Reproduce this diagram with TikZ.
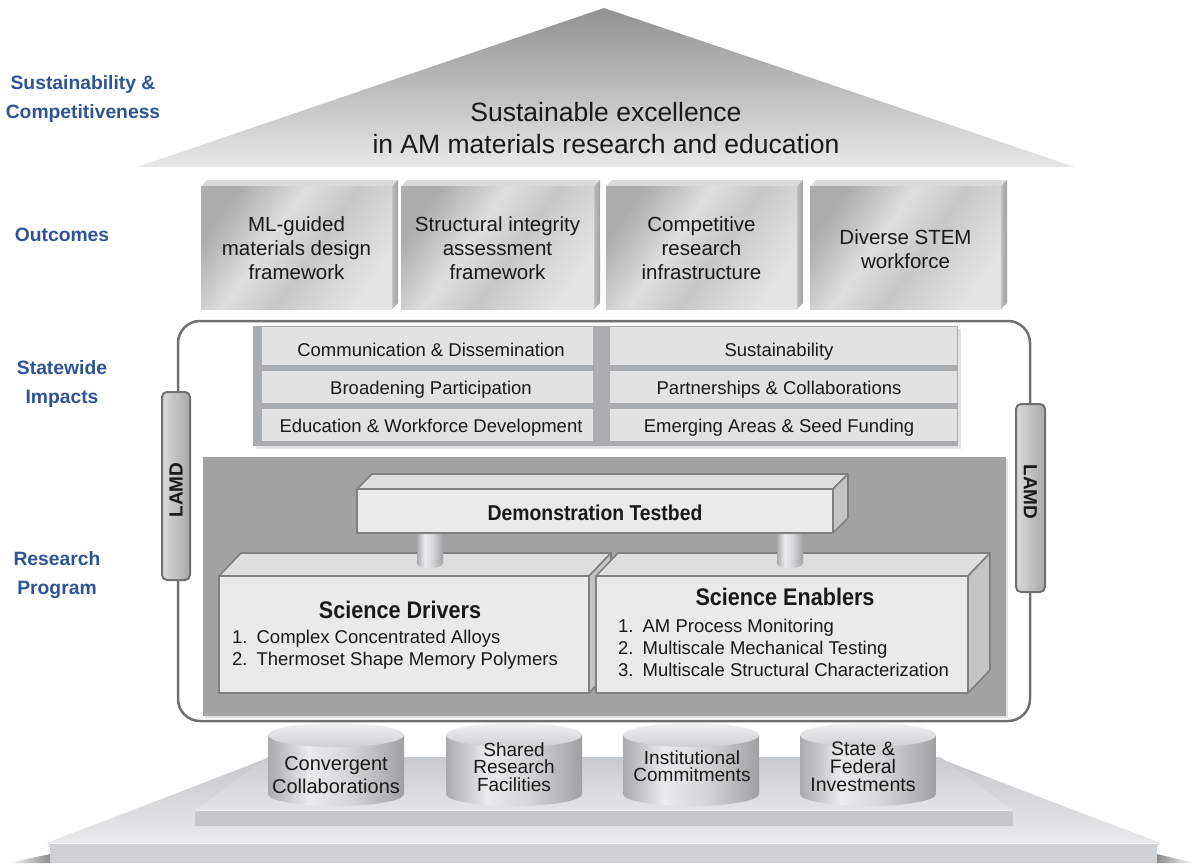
\documentclass[tikz,border=0pt]{standalone}
\usepackage{fontspec}
\setmainfont{Liberation Sans}
\newfontfamily\condb[FakeStretch=0.9]{Liberation Sans Bold}
\usetikzlibrary{shadows}
\definecolor{lblue}{RGB}{46,84,150}
\definecolor{edgec}{RGB}{128,128,128}
\definecolor{frontc}{RGB}{234,234,234}
\definecolor{topc}{RGB}{222,222,222}
\definecolor{sidec}{RGB}{196,196,196}
\definecolor{panel}{RGB}{162,162,162}
\definecolor{cellbg}{RGB}{170,173,176}
\definecolor{cell}{RGB}{226,226,226}
\definecolor{framec}{RGB}{112,112,112}
\definecolor{txt}{RGB}{25,25,25}
\definecolor{roofT}{RGB}{145,145,145}
\definecolor{roofB}{RGB}{232,232,232}
\definecolor{cyA}{RGB}{168,170,172}
\definecolor{cyB}{RGB}{234,235,236}
\definecolor{cyM}{RGB}{212,214,215}
\definecolor{cyC}{RGB}{158,160,162}
\definecolor{cyT1}{RGB}{240,241,242}
\definecolor{cyT2}{RGB}{205,207,208}
\definecolor{mA}{RGB}{172,172,172}
\definecolor{mB}{RGB}{222,222,222}
\definecolor{mC}{RGB}{200,200,200}
\definecolor{mD}{RGB}{228,228,228}
\definecolor{otop}{RGB}{218,218,218}
\definecolor{oside}{RGB}{160,160,160}
\definecolor{plA}{RGB}{196,200,202}
\definecolor{plB}{RGB}{232,234,235}
\definecolor{plA2}{RGB}{200,204,206}
\definecolor{plB2}{RGB}{226,229,230}
\definecolor{plF}{RGB}{206,210,212}
\definecolor{plF2}{RGB}{196,200,202}
\definecolor{shd}{RGB}{140,140,140}
\definecolor{pilL}{RGB}{218,218,218}
\definecolor{pilR}{RGB}{168,168,168}
\pgfdeclarehorizontalshading{cyl}{100bp}{color(0bp)=(cyA); color(25bp)=(cyA); color(40bp)=(cyB); color(55bp)=(cyM); color(75bp)=(cyC); color(100bp)=(cyC)}
\pgfdeclarehorizontalshading{metal}{100bp}{color(0bp)=(mA); color(25bp)=(mA); color(42bp)=(mB); color(55bp)=(mC); color(75bp)=(mD); color(100bp)=(mD)}
\begin{document}
\begin{tikzpicture}[x=1pt,y=-1pt,
  bluelab/.style={text=lblue,font=\fontsize{19.3}{29}\selectfont\bfseries,align=center,inner sep=0pt,anchor=base},
  outtxt/.style={font=\fontsize{20.5}{24}\selectfont,align=center,inner sep=0pt,text=txt,anchor=base},
  celltxt/.style={font=\fontsize{18.5}{22}\selectfont,inner sep=0pt,text=txt,anchor=base},
  listtxt/.style={font=\fontsize{18.5}{22}\selectfont,inner sep=0pt,text=txt,anchor=base west,align=left},
  cylt/.style={font=\fontsize{20}{17}\selectfont,align=center,inner sep=0pt,text=txt,anchor=base},
  lamd/.style={font=\fontsize{19}{22}\selectfont\bfseries,inner sep=0pt,text=txt},
  boxedge/.style={draw=edgec,line width=1.6pt,line join=round},
  titletxt/.style={font=\condb\fontsize{24}{28}\selectfont,inner sep=0pt,text=txt,anchor=base},
]
\useasboundingbox (0,0) rectangle (1198,863);

% ---------------- foundation ----------------
\shade[left color=white,right color=shd] (8,863) -- (50,854) -- (50,863) -- cycle;
\shade[left color=shd,right color=white] (1157,854) -- (1195,863) -- (1157,863) -- cycle;
\draw[gray!20,line width=5pt] (270,760) -- (48,845);
\draw[gray!20,line width=5pt] (936,760) -- (1159,845);
\shade[top color=plA,bottom color=plB] (270,757) -- (936,757) -- (1157,843) -- (50,843) -- cycle;
\fill[plF] (50,843) rectangle (1157,863);
\draw[white,line width=1pt] (50,843.5) -- (1157,843.5);
\shade[top color=plA2,bottom color=plB2] (268,757) -- (940,757) -- (1013,810) -- (195,810) -- cycle;
\fill[plF2] (195,810) rectangle (1013,826);
\draw[white!85!gray,line width=1pt] (195,810.5) -- (1013,810.5);

% cylinders
\foreach \x in {268,446,623,800}{
  \shade[shading=cyl] (\x,735) -- (\x,794) arc[start angle=180,end angle=360,x radius=68pt,y radius=12pt] -- (\x+136,735) -- cycle;
  \shade[top color=cyT1,bottom color=cyT2] (\x+68,735) ellipse[x radius=68pt,y radius=12pt];
}
\node[cylt,font=\fontsize{20}{23}\selectfont] (cyl1) at (336,793) {Convergent\\Collaborations};
\node[cylt,font=\fontsize{19}{17.5}\selectfont] (cyl2) at (514,791) {Shared\\Research\\Facilities};
\node[cylt,font=\fontsize{19}{17}\selectfont] (cyl3) at (692,781) {Institutional\\Commitments};
\node[cylt,font=\fontsize{19.5}{18}\selectfont] (cyl4) at (863,791) {State \&\\Federal\\Investments};

% ---------------- frame ----------------
\draw[framec,line width=2.5pt,rounded corners=22pt] (178,321) rectangle (1030,721);
\shadedraw[left color=pilL,right color=pilR,draw=framec,line width=2pt,rounded corners=5pt] (162,392) rectangle (190,580);
\node[lamd,rotate=90] (lamdL) at (176,490) {LAMD};
\shadedraw[left color=pilL,right color=pilR,draw=framec,line width=2pt,rounded corners=5pt] (1016,404) rectangle (1045,592);
\node[lamd,rotate=-90] (lamdR) at (1030.5,492) {LAMD};

% ---------------- statewide impacts ----------------
\fill[cellbg,drop shadow={shadow xshift=3pt,shadow yshift=-3pt,fill=gray!45}] (253,326) rectangle (958,446);
\foreach \ya/\yb in {327/365,371/403,409/441}{
  \fill[cell] (262,\ya) rectangle (593,\yb);
  \fill[cell] (610,\ya) rectangle (957,\yb);
}
\node[celltxt] (imp1) at (431,356) {Communication \& Dissemination};
\node[celltxt] (imp2) at (431,394) {Broadening Participation};
\node[celltxt] (imp3) at (431,432) {Education \& Workforce Development};
\node[celltxt] (imp4) at (779,356) {Sustainability};
\node[celltxt] (imp5) at (779,394) {Partnerships \& Collaborations};
\node[celltxt] (imp6) at (779,432) {Emerging Areas \& Seed Funding};

% ---------------- research program ----------------
\fill[panel,drop shadow={shadow xshift=2pt,shadow yshift=-2pt,fill=gray!45}] (203,457) rectangle (1006,716);

% science drivers
\filldraw[boxedge,fill=topc] (219,576) -- (241,553) -- (611,553) -- (589,576) -- cycle;
\filldraw[boxedge,fill=sidec] (589,576) -- (611,553) -- (611,670) -- (589,693) -- cycle;
\filldraw[boxedge,fill=frontc] (219,576) rectangle (589,693);
% science enablers
\filldraw[boxedge,fill=topc] (596,576) -- (618,553) -- (990,553) -- (968,576) -- cycle;
\filldraw[boxedge,fill=sidec] (968,576) -- (990,553) -- (990,670) -- (968,693) -- cycle;
\filldraw[boxedge,fill=frontc] (596,576) rectangle (968,693);

% pillars
\foreach \x in {417,777}{
  \shade[shading=cyl] (\x,528) -- (\x,563) arc[start angle=180,end angle=360,x radius=13pt,y radius=5pt] -- (\x+26,528) -- cycle;
}
% testbed
\filldraw[boxedge,fill=topc] (357,489) -- (372,474) -- (848,474) -- (833,489) -- cycle;
\filldraw[boxedge,fill=sidec] (833,489) -- (848,474) -- (848,518) -- (833,533) -- cycle;
\filldraw[boxedge,fill=frontc] (357,489) rectangle (833,533);
\node[titletxt,font=\condb\fontsize{21.5}{24}\selectfont] (testbed) at (595,520) {Demonstration Testbed};

\node[titletxt] (drivers) at (400,618) {Science Drivers};
\node[listtxt] (drvlist) at (232,643) {\begin{tabular}[t]{@{}l@{\hspace{9pt}}l@{}}1. & Complex Concentrated Alloys\\ 2. & Thermoset Shape Memory Polymers\end{tabular}};
\node[titletxt] (enablers) at (785,605) {Science Enablers};
\node[listtxt] (enblist) at (618,632) {\begin{tabular}[t]{@{}l@{\hspace{9pt}}l@{}}1. & AM Process Monitoring\\ 2. & Multiscale Mechanical Testing\\ 3. & Multiscale Structural Characterization\end{tabular}};

% ---------------- outcomes ----------------
\foreach \xa/\xb in {201/392,401/594,606/797,810/1001}{
  \fill[otop] (\xa,186) -- (\xa+6,180) -- (\xb+6,180) -- (\xb,186) -- cycle;
  \shade[left color=oside!70!white,right color=oside] (\xb,186) -- (\xb+6,180) -- (\xb+6,303) -- (\xb,309) -- cycle;
  \shade[shading=metal,shading angle=-35] (\xa,186) rectangle (\xb,309);
}
\node[outtxt] (out1) at (296.5,279) {ML-guided\\materials design\\framework};
\node[outtxt] (out2) at (497.5,279) {Structural integrity\\assessment\\framework};
\node[outtxt] (out3) at (701.5,279) {Competitive\\research\\infrastructure};
\node[outtxt] (out4) at (905.5,268) {Diverse STEM\\workforce};

% ---------------- roof ----------------
\shade[top color=roofT,bottom color=roofB] (604,8) -- (1075,167) -- (137,167) -- cycle;
\node[anchor=base,align=center,inner sep=0pt,text=txt,font=\fontsize{26.5}{32}\selectfont] (roof) at (606,153) {Sustainable excellence\\in AM materials research and education};

% ---------------- left labels ----------------
\node[bluelab] (lab1) at (83,118) {Sustainability \&\\Competitiveness};
\node[bluelab] (lab2) at (62,241) {Outcomes};
\node[bluelab] (lab3) at (62,403) {Statewide\\Impacts};
\node[bluelab] (lab4) at (57,594) {Research\\Program};
\end{tikzpicture}
\end{document}
